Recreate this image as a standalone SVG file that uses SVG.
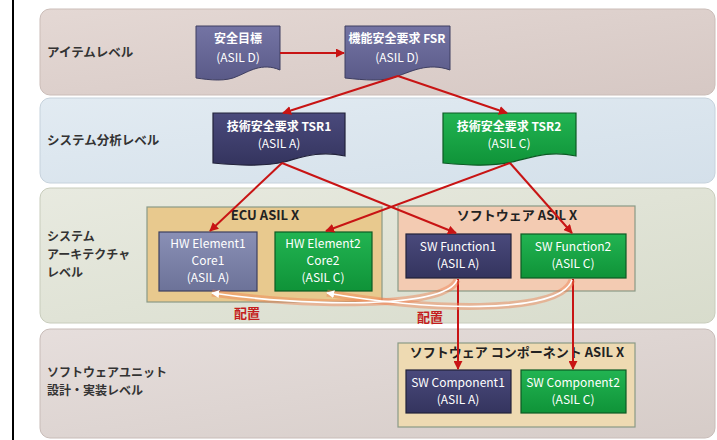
<svg xmlns="http://www.w3.org/2000/svg" width="717" height="440" viewBox="0 0 717 440">
<defs>
<style>
text{font-family:"Noto Sans CJK JP","Liberation Sans",sans-serif;}
.lvl{font-size:12.5px;font-weight:bold;fill:#333;}
.lv2{font-size:12px;font-weight:bold;fill:#333;}
.nt{font-size:12px;fill:#fff;text-anchor:middle;}
.gt{font-size:13px;font-weight:bold;fill:#222;text-anchor:middle;}
.hai{font-size:13px;font-weight:bold;fill:#c41e1e;text-anchor:middle;}
.conn{stroke:#c81414;stroke-width:2;fill:none;marker-end:url(#ah);}
.purple{fill:url(#gPurple);stroke:#3e3e60;stroke-width:1;}
.navy{fill:url(#gNavy);stroke:#22223a;stroke-width:1.2;}
.green{fill:url(#gGreen);stroke:#0c5a24;stroke-width:1.2;}
.gray{fill:url(#gGray);stroke:#3c4060;stroke-width:1.2;}
</style>
<marker id="ah" viewBox="0 0 10 10" refX="9" refY="5" markerWidth="4.5" markerHeight="4.5" orient="auto" markerUnits="strokeWidth">
<path d="M0,0 L10,5 L0,10 Z" fill="#c81414"/>
</marker>
<marker id="wh" viewBox="0 0 10 10" refX="9" refY="5" markerWidth="5" markerHeight="5" orient="auto" markerUnits="strokeWidth">
<path d="M0,0 L10,5 L0,10 Z" fill="#ffffff"/>
</marker>
<linearGradient id="gPurple" x1="0" y1="0" x2="0" y2="1"><stop offset="0" stop-color="#7474a4"/><stop offset="1" stop-color="#5a5a88"/></linearGradient>
<linearGradient id="gNavy" x1="0" y1="0" x2="0" y2="1"><stop offset="0" stop-color="#4a4a7c"/><stop offset="1" stop-color="#34345e"/></linearGradient>
<linearGradient id="gGreen" x1="0" y1="0" x2="0" y2="1"><stop offset="0" stop-color="#22b452"/><stop offset="1" stop-color="#0f9338"/></linearGradient>
<linearGradient id="gGray" x1="0" y1="0" x2="0" y2="1"><stop offset="0" stop-color="#8a90b6"/><stop offset="1" stop-color="#6c7298"/></linearGradient>
<linearGradient id="b1" x1="0" y1="0" x2="1" y2="1"><stop offset="0" stop-color="#e4d8d4"/><stop offset="1" stop-color="#d6c8c4"/></linearGradient>
<linearGradient id="b2" x1="0" y1="0" x2="1" y2="1"><stop offset="0" stop-color="#e2ebf2"/><stop offset="1" stop-color="#d4e0ea"/></linearGradient>
<linearGradient id="b3" x1="0" y1="0" x2="1" y2="1"><stop offset="0" stop-color="#e8eae0"/><stop offset="1" stop-color="#d8dccc"/></linearGradient>
<linearGradient id="b4" x1="0" y1="0" x2="1" y2="1"><stop offset="0" stop-color="#e6dedc"/><stop offset="1" stop-color="#d6ccc8"/></linearGradient>
</defs>
<rect x="0" y="0" width="717" height="440" fill="#ffffff"/>
<line x1="13" y1="0" x2="13" y2="440" stroke="#000" stroke-width="2"/>

<g id="bands">
<rect x="40" y="9" width="675" height="86" rx="10" fill="url(#b1)" stroke="#cbbdb8" stroke-width="1"/>
<rect x="40" y="98" width="675" height="85" rx="10" fill="url(#b2)" stroke="#c6d2dc" stroke-width="1"/>
<rect x="40" y="188" width="675" height="135" rx="10" fill="url(#b3)" stroke="#c8ccbc" stroke-width="1"/>
<rect x="40" y="329" width="675" height="109" rx="10" fill="url(#b4)" stroke="#c8bcb8" stroke-width="1"/>
<text class="lvl" x="47" y="57">アイテムレベル</text>
<text class="lvl" x="47" y="145">システム分析レベル</text>
<text class="lv2" x="47" y="241">システム</text>
<text class="lv2" x="47" y="259">アーキテクチャ</text>
<text class="lv2" x="47" y="277">レベル</text>
<text class="lv2" x="47" y="377">ソフトウェアユニット</text>
<text class="lv2" x="47" y="395">設計・実装レベル</text>
</g>

<g id="grp-ecu">
<rect x="147" y="207" width="235" height="95" fill="#e8c98e" stroke="#8a9a86" stroke-width="1.2"/>
<text class="gt" x="265" y="220">ECU ASIL X</text>
</g>
<g id="grp-sw">
<rect x="398" y="206" width="237" height="85" fill="#f3cbb2" stroke="#8a9a86" stroke-width="1.2"/>
<text class="gt" x="517" y="220">ソフトウェア ASIL X</text>
</g>
<g id="grp-comp">
<rect x="398" y="343" width="237" height="84" fill="#eedab2" stroke="#8a9a86" stroke-width="1.2"/>
<text class="gt" x="517" y="357">ソフトウェア コンポーネント ASIL X</text>
</g>

<g id="n-sg">
<path class="purple" d="M196,26 H280 V70 C262,62 248,72 238,76 C226,82 210,80 196,78 Z"/>
<text class="nt" x="238" y="43" font-weight="bold">安全目標</text>
<text class="nt" x="238" y="62">(ASIL D)</text>
</g>
<g id="n-fsr">
<path class="purple" d="M345,26 H450 V70 C428,62 410,72 398,76 C384,82 364,80 345,78 Z"/>
<text class="nt" x="397" y="43" font-weight="bold">機能安全要求 FSR</text>
<text class="nt" x="397" y="62">(ASIL D)</text>
</g>
<g id="n-tsr1">
<path class="navy" d="M213,113 H345 V156 C318,150 300,158 284,162 C262,167 236,165 213,163 Z"/>
<text class="nt" x="279" y="131" font-weight="bold">技術安全要求 TSR1</text>
<text class="nt" x="279" y="148">(ASIL A)</text>
</g>
<g id="n-tsr2">
<path class="green" d="M443,113 H576 V156 C548,150 530,158 512,162 C490,167 466,165 443,163 Z"/>
<text class="nt" x="509" y="131" font-weight="bold">技術安全要求 TSR2</text>
<text class="nt" x="509" y="148">(ASIL C)</text>
</g>

<g id="n-hw1">
<rect class="gray" x="159" y="232" width="98" height="59"/>
<text class="nt" x="208" y="248">HW Element1</text>
<text class="nt" x="208" y="265">Core1</text>
<text class="nt" x="208" y="282">(ASIL A)</text>
</g>
<g id="n-hw2">
<rect class="green" x="275" y="232" width="97" height="59"/>
<text class="nt" x="323" y="248">HW Element2</text>
<text class="nt" x="323" y="265">Core2</text>
<text class="nt" x="323" y="282">(ASIL C)</text>
</g>
<g id="n-swf1">
<rect class="navy" x="406" y="234" width="105" height="44"/>
<text class="nt" x="458" y="251">SW Function1</text>
<text class="nt" x="458" y="268">(ASIL A)</text>
</g>
<g id="n-swf2">
<rect class="green" x="521" y="234" width="105" height="44"/>
<text class="nt" x="573" y="251">SW Function2</text>
<text class="nt" x="573" y="268">(ASIL C)</text>
</g>
<g id="n-swc1">
<rect class="navy" x="406" y="370" width="105" height="43"/>
<text class="nt" x="458" y="387">SW Component1</text>
<text class="nt" x="458" y="404">(ASIL A)</text>
</g>
<g id="n-swc2">
<rect class="green" x="521" y="370" width="105" height="43"/>
<text class="nt" x="573" y="387">SW Component2</text>
<text class="nt" x="573" y="404">(ASIL C)</text>
</g>

<g id="connectors">
<line class="conn" x1="280" y1="53" x2="344" y2="53"/>
<line class="conn" x1="398" y1="76" x2="283" y2="113"/>
<line class="conn" x1="398" y1="76" x2="507" y2="113"/>
<line class="conn" x1="282" y1="163" x2="210" y2="231"/>
<line class="conn" x1="282" y1="163" x2="456" y2="233"/>
<line class="conn" x1="510" y1="163" x2="326" y2="231"/>
<line class="conn" x1="510" y1="163" x2="572" y2="233"/>
<line class="conn" x1="458" y1="279" x2="458" y2="369"/>
<line class="conn" x1="573" y1="279" x2="573" y2="369"/>
<path d="M457,280 C445,310 300,306 212,293" fill="none" stroke="#f08050" stroke-opacity="0.45" stroke-width="7"/>
<path d="M572,280 C560,316 420,310 327,293" fill="none" stroke="#f08050" stroke-opacity="0.45" stroke-width="7"/>
<path d="M457,280 C445,310 300,306 212,293" fill="none" stroke="#ffffff" stroke-width="1.6" marker-end="url(#wh)"/>
<path d="M572,280 C560,316 420,310 327,293" fill="none" stroke="#ffffff" stroke-width="1.6" marker-end="url(#wh)"/>
<text class="hai" x="247" y="318">配置</text>
<text class="hai" x="430" y="322">配置</text>
</g>
</svg>
